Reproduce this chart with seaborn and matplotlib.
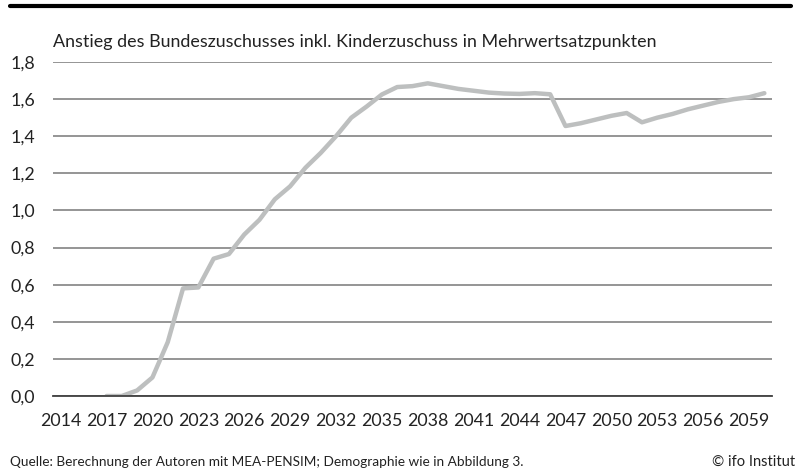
import numpy as np
import pandas as pd
import matplotlib.pyplot as plt
import seaborn as sns
from matplotlib.ticker import FixedLocator, FuncFormatter

# data (2014-2016 have no value)
years = list(range(2014, 2061))
zuschuss = [np.nan, np.nan, np.nan,
            0.00, 0.00, 0.03, 0.10, 0.29, 0.58, 0.585, 0.74, 0.765,
            0.87, 0.95, 1.06, 1.13, 1.23, 1.31, 1.40, 1.50, 1.56,
            1.625, 1.665, 1.67, 1.685, 1.67, 1.655, 1.645, 1.635, 1.63,
            1.628, 1.632, 1.626, 1.455, 1.47, 1.49, 1.51, 1.525, 1.475,
            1.50, 1.52, 1.545, 1.565, 1.585, 1.60, 1.61, 1.632]
label_years = list(range(2014, 2061, 3))

df = pd.DataFrame({'Jahr': years, 'Wert': zuschuss})

sns.set_style('white')
plt.rcParams['font.family'] = ['Lato', 'DejaVu Sans']

fig = plt.figure(figsize=(7.98, 4.74), dpi=100)
ax = fig.add_axes([53/798, 1-396/474, (772-53)/798, (396-62)/474])

sns.lineplot(data=df, x='Jahr', y='Wert', color='#bdbfbf', linewidth=3.2, ax=ax)

ax.set_xlim(2013.5, 2060.5)
ax.set_ylim(0, 1.8)
ax.set_yticks(np.arange(0, 1.81, 0.2))
ax.yaxis.set_major_formatter(FuncFormatter(lambda v, p: f'{v:.1f}'.replace('.', ',')))
ax.grid(axis='y', color='#8c8c8c', linewidth=1.3)
ax.set_axisbelow(True)

ax.set_xticks(label_years)
ax.set_xticklabels([str(y) for y in label_years])
ax.xaxis.set_minor_locator(FixedLocator(np.arange(2013.5, 2061, 1)))
ax.tick_params(axis='x', which='major', length=0, pad=12, labelsize=12.8, colors='#222222')
ax.tick_params(axis='x', which='minor', length=5, width=1, color='#404040', direction='out')
ax.tick_params(axis='y', length=0, pad=13, labelsize=12.8, colors='#222222')

for s in ['top', 'right', 'left']:
    ax.spines[s].set_visible(False)
ax.spines['bottom'].set_color('#404040')
ax.spines['bottom'].set_linewidth(1.3)
ax.set_xlabel('')
ax.set_ylabel('')

fig.text(53/798, 1-42/474, 'Anstieg des Bundeszuschusses inkl. Kinderzuschuss in Mehrwertsatzpunkten',
         fontsize=12.9, color='#222222', va='center')

# black rule at the top of the figure
fig.add_artist(plt.Line2D([10/798, 791/798], [1-6/474, 1-6/474], color='black', linewidth=3,
                          transform=fig.transFigure))

fig.text(10/798, 1-462/474, 'Quelle: Berechnung der Autoren mit MEA-PENSIM; Demographie wie in Abbildung 3.',
         fontsize=9.8, color='#222222', va='center')
fig.text(795/798, 1-462/474, '© ifo Institut', fontsize=10.5, color='#222222', va='center', ha='right')

fig.savefig('out.png', dpi=100)
